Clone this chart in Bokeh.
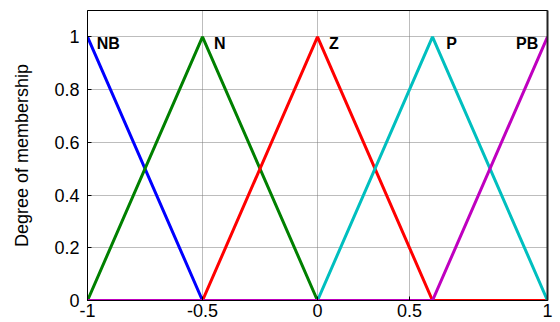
from bokeh.plotting import figure
from bokeh.models import Range1d, FixedTicker, LinearAxis, Label
from bokeh.embed import file_html
from bokeh.resources import INLINE

# membership functions (triangles drawn over the whole universe [-1, 1])
nb_x = [-1.0, -0.5, 1.0]
nb_y = [1.0, 0.0, 0.0]
n_x = [-1.0, -0.5, 0.0, 1.0]
n_y = [0.0, 1.0, 0.0, 0.0]
z_x = [-1.0, -0.5, 0.0, 0.5, 1.0]
z_y = [0.0, 0.0, 1.0, 0.0, 0.0]
p_x = [-1.0, 0.0, 0.5, 1.0]
p_y = [0.0, 0.0, 1.0, 0.0]
pb_x = [-1.0, 0.5, 1.0]
pb_y = [0.0, 0.0, 1.0]

names = ["NB", "N", "Z", "P", "PB"]
name_x = [-0.96, -0.45, 0.05, 0.56, 0.96]
name_y = [0.975, 0.975, 0.975, 0.975, 0.975]

x_ticks = [-1.0, -0.5, 0.0, 0.4, 1.0]
x_tick_labels = {-1.0: "-1", -0.5: "-0.5", 0.0: "0", 0.4: "0.5", 1.0: "1"}
y_ticks = [0.0, 0.2, 0.4, 0.6, 0.8, 1.0]
y_tick_labels = {0.0: "0", 0.2: "0.2", 0.4: "0.4", 0.6: "0.6", 0.8: "0.8", 1.0: "1"}

FONT = "Liberation Sans"

p = figure(width=560, height=322, output_backend="svg", toolbar_location=None,
           x_range=Range1d(-1, 1), y_range=Range1d(0, 1.1),
           min_border_left=87, min_border_right=13, min_border_top=10, min_border_bottom=22)
p.background_fill_color = "white"
p.border_fill_color = "white"
p.outline_line_color = "black"
p.outline_line_width = 1

for ax in (p.xaxis[0], p.yaxis[0]):
    ax.major_tick_in = 4
    ax.major_tick_out = 0
    ax.minor_tick_line_color = None
    ax.axis_line_color = "black"
    ax.major_label_text_font = FONT
    ax.major_label_text_font_size = "18px"
    ax.major_label_text_color = "black"

p.xaxis[0].ticker = FixedTicker(ticks=x_ticks)
p.xaxis[0].major_label_overrides = x_tick_labels
p.xaxis[0].major_label_standoff = 3
p.yaxis[0].ticker = FixedTicker(ticks=y_ticks)
p.yaxis[0].major_label_overrides = y_tick_labels
p.yaxis[0].major_label_standoff = 8
p.yaxis[0].axis_label = "Degree of membership"
p.yaxis[0].axis_label_text_font = FONT
p.yaxis[0].axis_label_text_font_size = "18px"
p.yaxis[0].axis_label_text_font_style = "normal"
p.yaxis[0].axis_label_text_color = "black"
p.yaxis[0].axis_label_standoff = 19

# box edge on the right (darker, thicker as in the reference)
right = LinearAxis(ticker=FixedTicker(ticks=[]), minor_tick_line_color=None,
                   axis_line_color="#222222", axis_line_width=2)
p.add_layout(right, "right")

for g, t in ((p.xgrid[0], x_ticks), (p.ygrid[0], y_ticks)):
    g.ticker = FixedTicker(ticks=t)
    g.grid_line_color = "#7a7a7a"
    g.grid_line_dash = "1 1"
    g.grid_line_width = 1

W = 3
p.line(nb_x, nb_y, line_color="#0000ff", line_width=W)
p.line(n_x, n_y, line_color="#008000", line_width=W)
p.line(z_x, z_y, line_color="#ff0000", line_width=W)
p.line(p_x, p_y, line_color="#00bfbf", line_width=W)
p.line(pb_x, pb_y, line_color="#bf00bf", line_width=W)

for i, nm in enumerate(names):
    align = "right" if nm == "PB" else "left"
    p.add_layout(Label(x=name_x[i], y=name_y[i], text=nm, text_font=FONT,
                       text_font_size="16px", text_font_style="bold",
                       text_align=align, text_baseline="middle", text_color="black"))

open("out.html", "w").write(file_html(p, INLINE))
